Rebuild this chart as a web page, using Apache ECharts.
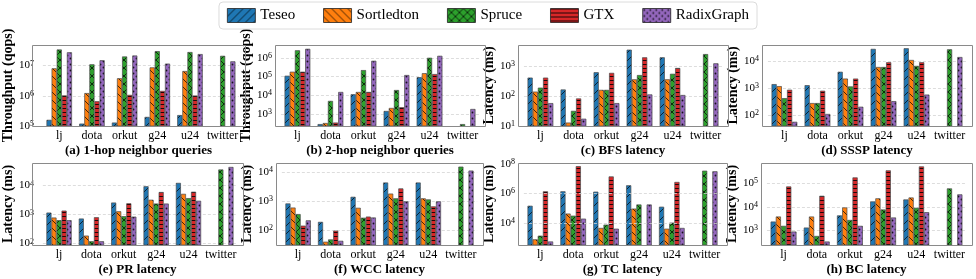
<!DOCTYPE html>
<html><head><meta charset="utf-8">
<script src="https://cdn.jsdelivr.net/npm/echarts@6/dist/echarts.min.js"></script>
<style>html,body{margin:0;padding:0;background:#fff}#c{width:976px;height:279px}</style>
</head><body><div id="c"></div>
<script>
// ---------------- data ----------------
const categories = ['lj', 'dota', 'orkut', 'g24', 'u24', 'twitter'];
const systems = ['Teseo', 'Sortledton', 'Spruce', 'GTX', 'RadixGraph'];
const panelTitles = ['(a) 1-hop neighbor queries', '(b) 2-hop neighbor queries', '(c) BFS latency', '(d) SSSP latency',
                     '(e) PR latency', '(f) WCC latency', '(g) TC latency', '(h) BC latency'];
const yTitleThroughput = 'Throughput (qops)';
const yTitleLatency = 'Latency (ms)';

// (a) 1-hop neighbor queries throughput (qops)
const hop1Teseo      = [1.6e5, 1.2e5, 1.3e5, 2.0e5, 2.3e5, null];
const hop1Sortledton = [8.1e6, 1.23e6, 3.8e6, 8.7e6, 6.6e6, null];
const hop1Spruce     = [3.4e7, 1.1e7, 2.0e7, 3.0e7, 2.8e7, 2.1e7];
const hop1GTX        = [1.03e6, 6.6e5, 1.07e6, 1.45e6, 1.02e6, null];
const hop1Radix      = [2.75e7, 1.5e7, 2.15e7, 1.16e7, 2.4e7, 1.38e7];
// (b) 2-hop neighbor queries throughput (qops)
const hop2Teseo      = [1.1e5, 290, 1.13e4, 1.45e3, 9.2e4, null];
const hop2Sortledton = [1.8e5, 330, 1.5e4, 2.1e3, 1.5e5, null];
const hop2Spruce     = [2.5e6, 5.0e3, 2.2e5, 1.9e4, 1.0e6, 290];
const hop2GTX        = [1.8e5, 350, 1.5e4, 2.3e3, 1.35e5, null];
const hop2Radix      = [3.0e6, 1.5e4, 6.9e5, 1.2e5, 1.27e6, 1.85e3];
// (c) BFS latency (ms)
const bfsTeseo       = [410, 165, 620, 3500, 1950, null];
const bfsSortledton  = [140, 13, 160, 360, 360, null];
const bfsSpruce      = [190, 32, 160, 500, 550, 2500];
const bfsGTX         = [410, 83, 590, 1950, 860, null];
const bfsRadix       = [58, 17.5, 58, 113, 108, 1230];
// (d) SSSP latency (ms)
const ssspTeseo      = [1400, 1280, 4000, 2.8e4, 2.95e4, null];
const ssspSortledton = [1180, 280, 2240, 6000, 1.09e4, null];
const ssspSpruce     = [425, 280, 1150, 6000, 6600, 2.7e4];
const ssspGTX        = [870, 800, 2240, 9000, 9000, null];
const ssspRadix      = [57, 111, 205, 330, 575, 1.4e4];
// (e) PR latency (ms)
const prTeseo        = [1170, 730, 2600, 9500, 1.24e4, null];
const prSortledton   = [790, 188, 1300, 3250, 5200, null];
const prSpruce       = [640, 120, 880, 2400, 3700, 3.6e4];
const prGTX          = [1370, 810, 2450, 6000, 6150, null];
const prRadix        = [640, 120, 850, 2400, 3000, 4.4e4];
// (f) WCC latency (ms)
const wccTeseo       = [830, 195, 1400, 4300, 4300, null];
const wccSortledton  = [600, 41, 590, 1800, 1240, null];
const wccSpruce      = [360, 49, 270, 1240, 1140, 1.5e4];
const wccGTX         = [145, 98, 295, 2700, 660, null];
const wccRadix       = [220, 44, 275, 980, 980, 1.1e4];
// (g) TC latency (ms)
const tcTeseo        = [1.45e5, 1.37e6, 1.3e6, 3.5e6, 1.25e5, null];
const tcSortledton   = [780, 4.3e4, 4600, 9.3e4, 4100, null];
const tcSpruce       = [1380, 3.1e4, 7700, 1.77e5, 1.05e4, 3.4e7];
const tcGTX          = [1.37e6, 6.9e7, 1.38e7, null, 5.9e6, null];
const tcRadix        = [560, 1.96e4, 4100, 1.77e5, 4600, 3.1e7];
// (h) BC latency (ms)
const bcTeseo        = [2350, 1300, 4300, 1.7e4, 2.06e4, null];
const bcSortledton   = [3850, 3850, 9400, 2.3e4, 2.5e4, null];
const bcSpruce       = [1540, 570, 2750, 7700, 9100, 6.1e4];
const bcGTX          = [7.4e4, 2.95e4, 1.8e5, 3.6e5, 5.3e5, null];
const bcRadix        = [880, 330, 1540, 3500, 5900, 3.4e4];

// -------------- layout / style --------------
const FONT = '"Liberation Serif", "DejaVu Serif", serif';
const palette = ['#1f77b4', '#ff7f0e', '#2ca02c', '#d62728', '#9467bd'];
const hatchKinds = ['fwd', 'back', 'cross', 'horiz', 'dots'];

const panels = [
  {t: 0, y: yTitleThroughput, lo: 5, hi: 7.68, box: [32, 45, 245, 126], step: 1, series: [hop1Teseo, hop1Sortledton, hop1Spruce, hop1GTX, hop1Radix]},
  {t: 1, y: yTitleThroughput, lo: 2.36, hi: 6.68, box: [275, 45, 485, 126], step: 1, series: [hop2Teseo, hop2Sortledton, hop2Spruce, hop2GTX, hop2Radix]},
  {t: 2, y: yTitleLatency, lo: 1, hi: 3.7, box: [518, 45, 728, 126], step: 1, series: [bfsTeseo, bfsSortledton, bfsSpruce, bfsGTX, bfsRadix]},
  {t: 3, y: yTitleLatency, lo: 1.6, hi: 4.59, box: [762, 45, 972, 126], step: 1, series: [ssspTeseo, ssspSortledton, ssspSpruce, ssspGTX, ssspRadix]},
  {t: 4, y: yTitleLatency, lo: 1.95, hi: 4.78, box: [32, 163, 243, 245], step: 1, series: [prTeseo, prSortledton, prSpruce, prGTX, prRadix]},
  {t: 5, y: yTitleLatency, lo: 1.5, hi: 4.3, box: [276, 163, 483, 245], step: 1, series: [wccTeseo, wccSortledton, wccSpruce, wccGTX, wccRadix]},
  {t: 6, y: yTitleLatency, lo: 2.51, hi: 8.05, box: [518, 163, 727, 245], step: 2, series: [tcTeseo, tcSortledton, tcSpruce, tcGTX, tcRadix]},
  {t: 7, y: yTitleLatency, lo: 2.37, hi: 5.87, box: [761, 163, 972, 245], step: 1, series: [bcTeseo, bcSortledton, bcSpruce, bcGTX, bcRadix]}
];

function hatch(kind, bg) {
  const s = kind === 'horiz' ? 4 : (kind === 'dots' ? 6 : 8);
  const cv = document.createElement('canvas');
  cv.width = s; cv.height = s;
  const g = cv.getContext('2d');
  g.fillStyle = bg; g.fillRect(0, 0, s, s);
  g.strokeStyle = 'rgba(0,0,0,0.9)'; g.lineWidth = 0.8; g.fillStyle = 'rgba(0,0,0,0.85)';
  const line = (x1, y1, x2, y2) => { g.beginPath(); g.moveTo(x1, y1); g.lineTo(x2, y2); g.stroke(); };
  if (kind === 'fwd' || kind === 'cross') { line(-1, s + 1, s + 1, -1); line(-1, 1, 1, -1); line(s - 1, s + 1, s + 1, s - 1); }
  if (kind === 'back' || kind === 'cross') { line(-1, -1, s + 1, s + 1); line(s - 1, -1, s + 1, 1); line(-1, s - 1, 1, s + 1); }
  if (kind === 'horiz') { g.fillRect(0, 0, s, 1); }
  if (kind === 'dots') {
    g.beginPath(); g.arc(1.5, 1.5, 0.9, 0, Math.PI * 2); g.fill();
    g.beginPath(); g.arc(4.5, 4.5, 0.9, 0, Math.PI * 2); g.fill();
  }
  return cv;
}
const fills = palette.map((c, i) => ({image: hatch(hatchKinds[i], c), repeat: 'repeat'}));

function logLabel(step) {
  return function (v) {
    const e = Math.log10(v);
    const r = Math.round(e);
    if (Math.abs(e - r) > 1e-4 || r % step !== 0) return '';
    return '{b|10}{s|' + r + '}';
  };
}

const grids = [], xAxes = [], yAxes = [], series = [], graphics = [];
panels.forEach((p, i) => {
  const [fl, ft, fr, fb] = p.box;
  const W = fr - fl;
  const inset = W * 0.0282;
  const intLo = Number.isInteger(p.lo);
  grids.push({left: fl + inset, top: ft, width: W - 2 * inset, height: fb - ft});
  xAxes.push({
    type: 'category', gridIndex: i, data: categories,
    axisLine: {show: false}, axisTick: {show: false},
    axisLabel: {interval: 0, hideOverlap: false, fontFamily: FONT, fontSize: 12, color: '#000', margin: 4}
  });
  yAxes.push({
    type: 'log', logBase: 10, gridIndex: i,
    min: Math.pow(10, p.lo), max: Math.pow(10, p.hi),
    offset: inset,
    axisLine: {show: false}, axisTick: {show: false},
    splitLine: {show: p.step === 1, lineStyle: {type: [3, 2], color: '#d4d4d4', width: 0.8}},
    axisLabel: {
      formatter: logLabel(p.step), margin: 3, showMinLabel: intLo, showMaxLabel: false, hideOverlap: false,
      rich: {
        b: {fontFamily: FONT, fontSize: 11, color: '#000'},
        s: {fontFamily: FONT, fontSize: 8, color: '#000', verticalAlign: 'top', padding: [0, 0, 4, 0]}
      }
    },
    name: p.y, nameLocation: 'middle', nameGap: 16,
    nameTextStyle: {fontFamily: FONT, fontSize: 14, fontWeight: 'bold', color: '#000'}
  });
  p.series.forEach((arr, k) => {
    const s = {
      type: 'bar', name: systems[k], xAxisIndex: i, yAxisIndex: i, data: arr,
      barGap: '0%', barCategoryGap: '22%', clip: true,
      itemStyle: {color: fills[k], borderColor: '#4a4a4a', borderWidth: 0.7},
      emphasis: {disabled: true}
    };
    if (p.step !== 1 && k === 0) {
      s.markLine = {
        silent: true, symbol: 'none', label: {show: false},
        lineStyle: {type: [3, 2], color: '#d4d4d4', width: 0.8},
        data: [{yAxis: 1e4}, {yAxis: 1e6}, {yAxis: 1e8}]
      };
    }
    series.push(s);
  });
  graphics.push({
    type: 'rect', z: 10, silent: true,
    shape: {x: fl + 0.5, y: ft + 0.5, width: W, height: fb - ft},
    style: {fill: 'none', stroke: '#8a8a8a', lineWidth: 1}
  });
  graphics.push({
    type: 'text', z: 10, silent: true, x: (fl + fr) / 2, y: fb + 25,
    style: {text: panelTitles[p.t], fontFamily: FONT, fontSize: 13, fontWeight: 'bold', fill: '#000', align: 'center', verticalAlign: 'middle'}
  });
});

const chart = echarts.init(document.getElementById('c'), null, {renderer: 'canvas'});
chart.setOption({
  animation: false,
  backgroundColor: '#fff',
  legend: {
    data: systems, top: 2, left: 'center', icon: 'rect',
    itemWidth: 28, itemHeight: 14, itemGap: 28,
    padding: [6, 8], borderColor: '#dcdcdc', borderWidth: 1, borderRadius: 4,
    itemStyle: {borderColor: '#222', borderWidth: 0.8},
    textStyle: {fontFamily: FONT, fontSize: 15, color: '#000'}
  },
  grid: grids, xAxis: xAxes, yAxis: yAxes, series: series,
  graphic: graphics
});
</script></body></html>
